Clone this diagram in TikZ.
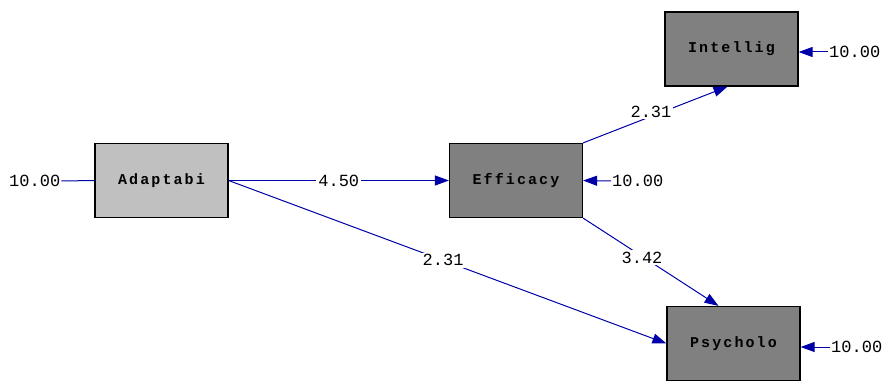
\documentclass[tikz,border=0pt]{standalone}
\usepackage{fontspec}
\setmonofont{Liberation Mono}
\newfontfamily\boxmono[LetterSpace=14]{Liberation Mono}
\usetikzlibrary{arrows.meta}
\definecolor{pathblue}{HTML}{0000A8}
\definecolor{lightbox}{HTML}{C0C0C0}
\definecolor{darkbox}{HTML}{808080}
\tikzset{
  varbox/.style={draw=black, line width=1.2pt, minimum width=133pt, minimum height=74pt, inner sep=0pt, font=\fontsize{15}{17}\selectfont\boxmono\bfseries},
  lightvar/.style={varbox, fill=lightbox},
  darkvar/.style={varbox, fill=darkbox},
  numlbl/.style={font=\fontsize{17}{19}\selectfont\ttfamily, inner sep=1pt, text=black},
  pathlbl/.style={numlbl, fill=white, inner sep=2pt},
  conn/.style={draw=pathblue, line width=1pt},
  arr/.style={conn, -{Triangle[length=14pt, width=10pt, fill=pathblue]}},
}
\begin{document}
\begin{tikzpicture}[x=1pt, y=-1pt]
\useasboundingbox (0,0) rectangle (888,382);
\node[lightvar] (adapt) at (161.5,180.5) {Adaptabi};
\node[darkvar] (eff) at (516,180.5) {Efficacy};
\node[darkvar] (intel) at (731.5,49) {Intellig};
\node[darkvar] (psy) at (733.5,343.5) {Psycholo};

\node[numlbl, anchor=west] (ea) at (8,181) {10.00};
\node[numlbl, anchor=west] (ee) at (611,181) {10.00};
\node[numlbl, anchor=west] (ei) at (828,52) {10.00};
\node[numlbl, anchor=west] (ep) at (830,347) {10.00};

\draw[conn] (ea.east) -- (adapt.west);
\draw[arr] (ee.west) -- (eff.east);
\draw[arr] (ei.west) -- (ei.west -| intel.east);
\draw[arr] (ep.west) -- (ep.west -| psy.east);

\draw[arr] (adapt.east) -- node[pathlbl] (l1) {4.50} (eff.west);
\draw[arr] (adapt.east) -- node[pathlbl, pos=0.49] (l2) {2.31} (psy.west);
\draw[arr] (eff.north east) -- node[pathlbl, pos=0.47, yshift=5pt] (l3) {2.31} ([xshift=-4pt]intel.south);
\draw[arr] (eff.south east) -- node[pathlbl, pos=0.45, xshift=-2pt] (l4) {3.42} ([xshift=-15pt]psy.north);
\end{tikzpicture}
\end{document}
